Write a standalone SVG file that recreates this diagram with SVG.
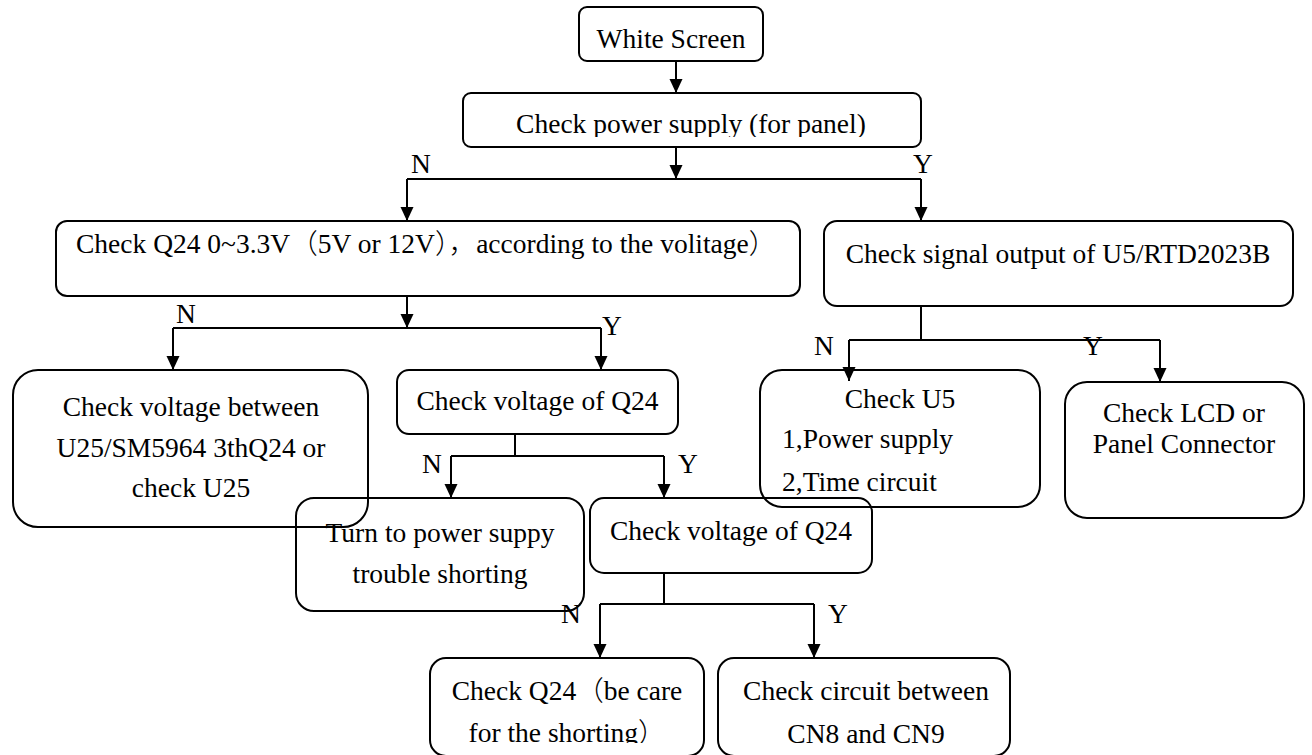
<svg xmlns="http://www.w3.org/2000/svg" width="1312" height="755" viewBox="0 0 1312 755">
<style>
.box{fill:none;stroke:#000;stroke-width:2}
.ln{fill:none;stroke:#000;stroke-width:2}
.ar{fill:none;stroke:#000;stroke-width:2;marker-end:url(#ah)}
text{font-family:'Liberation Serif','Times New Roman',serif;font-size:27.5px;fill:#000}
.cjk{font-family:'Noto Sans CJK SC',sans-serif;font-weight:300}
.c{text-anchor:middle}
</style>
<defs>
<marker id="ah" markerUnits="userSpaceOnUse" markerWidth="14" markerHeight="14" refX="14" refY="6.5" orient="auto">
<path d="M0,0 L14,6.5 L0,13 z" fill="#000"/>
</marker>
<clipPath id="clipPower"><rect x="463" y="93" width="458" height="44"/></clipPath>
<clipPath id="clipQ24b"><rect x="430" y="658" width="274" height="85"/></clipPath>
</defs>
<rect width="1312" height="755" fill="#fff"/>

<g id="connectors">
<line class="ar" x1="676" y1="61" x2="676" y2="93"/>
<line class="ar" x1="676" y1="147" x2="676" y2="179"/>
<polyline class="ar" points="407,179 407,221"/>
<line class="ln" x1="407" y1="179" x2="921" y2="179"/>
<polyline class="ar" points="921,179 921,221"/>
<text class="c" x="421" y="173">N</text>
<text class="c" x="923" y="173">Y</text>

<line class="ar" x1="407" y1="296" x2="407" y2="328"/>
<line class="ln" x1="173" y1="328" x2="601" y2="328"/>
<line class="ar" x1="173" y1="328" x2="173" y2="370"/>
<line class="ar" x1="601" y1="328" x2="601" y2="370"/>
<text class="c" x="186" y="323">N</text>
<text class="c" x="612" y="335">Y</text>

<line class="ln" x1="921" y1="306" x2="921" y2="340"/>
<line class="ln" x1="849" y1="340" x2="1160" y2="340"/>
<line class="ar" x1="849" y1="340" x2="849" y2="381"/>
<line class="ar" x1="1160" y1="340" x2="1160" y2="382"/>
<text class="c" x="824" y="355">N</text>
<text class="c" x="1093" y="355">Y</text>

<line class="ln" x1="515" y1="434" x2="515" y2="456"/>
<line class="ln" x1="451" y1="456" x2="664" y2="456"/>
<line class="ar" x1="451" y1="456" x2="451" y2="498"/>
<line class="ar" x1="664" y1="456" x2="664" y2="498"/>
<text class="c" x="432" y="473">N</text>
<text class="c" x="688" y="473">Y</text>

<line class="ln" x1="664" y1="573" x2="664" y2="604"/>
<line class="ln" x1="600" y1="604" x2="814" y2="604"/>
<line class="ar" x1="600" y1="604" x2="600" y2="658"/>
<line class="ar" x1="814" y1="604" x2="814" y2="658"/>
<text class="c" x="571" y="623">N</text>
<text class="c" x="838" y="623">Y</text>
</g>

<g id="white-screen">
<rect class="box" x="579" y="7" width="184" height="54" rx="8"/>
<text class="c" x="671" y="48">White Screen</text>
</g>

<g id="power-supply">
<rect class="box" x="463" y="93" width="458" height="54" rx="8"/>
<text class="c" x="691" y="133" clip-path="url(#clipPower)">Check power supply (for panel)</text>
</g>

<g id="check-q24-voltage-range">
<rect class="box" x="56" y="221" width="744" height="75" rx="11"/>
<text x="76" y="253">Check Q24 0~3.3V<tspan class="cjk">（</tspan>5V or 12V<tspan class="cjk">），</tspan>according to the volitage<tspan class="cjk">）</tspan></text>
</g>

<g id="signal-output">
<rect class="box" x="824" y="221" width="469" height="85" rx="13"/>
<text class="c" x="1058" y="263">Check signal output of U5/RTD2023B</text>
</g>

<g id="check-voltage-between">
<rect class="box" x="13" y="370" width="355" height="157" rx="25"/>
<text class="c" x="191" y="416">Check voltage between</text>
<text class="c" x="191" y="457">U25/SM5964 3thQ24 or</text>
<text class="c" x="191" y="497">check U25</text>
</g>

<g id="check-voltage-q24-1">
<rect class="box" x="397" y="370" width="281" height="64" rx="12"/>
<text class="c" x="537.5" y="410">Check voltage of Q24</text>
</g>

<g id="check-u5">
<rect class="box" x="760" y="370" width="280" height="137" rx="22"/>
<text class="c" x="900" y="408">Check U5</text>
<text x="782" y="448">1,Power supply</text>
<text x="782" y="491">2,Time circuit</text>
</g>

<g id="check-lcd">
<rect class="box" x="1065" y="382" width="239" height="136" rx="22"/>
<text class="c" x="1184" y="422">Check LCD or</text>
<text class="c" x="1184" y="453">Panel Connector</text>
</g>

<g id="turn-to-power">
<rect class="box" x="296" y="498" width="288" height="113" rx="18"/>
<text class="c" x="440" y="542">Turn to power suppy</text>
<text class="c" x="440" y="583">trouble shorting</text>
</g>

<g id="check-voltage-q24-2">
<rect class="box" x="590" y="498" width="282" height="75" rx="14"/>
<text class="c" x="731" y="540">Check voltage of Q24</text>
</g>

<g id="check-q24-shorting">
<rect class="box" x="430" y="658" width="274" height="98" rx="16"/>
<text class="c" x="567" y="700">Check Q24<tspan class="cjk">（</tspan>be care</text>
<text class="c" x="567" y="742" clip-path="url(#clipQ24b)">for the shorting<tspan class="cjk">）</tspan></text>
</g>

<g id="check-circuit">
<rect class="box" x="718" y="658" width="292" height="98" rx="16"/>
<text class="c" x="866" y="700">Check circuit between</text>
<text class="c" x="866" y="743">CN8 and CN9</text>
</g>
</svg>
